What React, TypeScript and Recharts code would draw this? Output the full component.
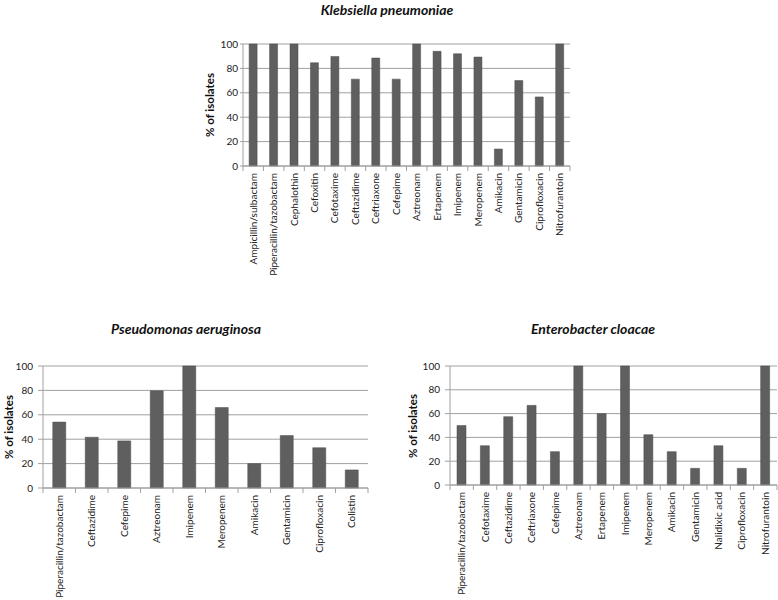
import React from 'react';
import { BarChart, Bar, XAxis, YAxis, CartesianGrid } from 'recharts';

// Klebsiella pneumoniae
const klebDrugs = [
  'Ampicillin/sulbactam', 'Piperacillin/tazobactam', 'Cephalothin', 'Cefoxitin', 'Cefotaxime',
  'Ceftazidime', 'Ceftriaxone', 'Cefepime', 'Aztreonam', 'Ertapenem', 'Imipenem', 'Meropenem',
  'Amikacin', 'Gentamicin', 'Ciprofloxacin', 'Nitrofurantoin',
];
const klebValues = [100, 100, 100, 84.6, 89.8, 71.2, 88.5, 71.2, 100, 94, 92, 89.3, 13.9, 70, 56.6, 100];

// Pseudomonas aeruginosa
const pseudoDrugs = [
  'Piperacillin/tazobactam', 'Ceftazidime', 'Cefepime', 'Aztreonam', 'Imipenem', 'Meropenem',
  'Amikacin', 'Gentamicin', 'Ciprofloxacin', 'Colistin',
];
const pseudoValues = [54, 41.6, 38.6, 79.7, 100, 66, 20, 43, 33, 14.8];

// Enterobacter cloacae
const enteroDrugs = [
  'Piperacillin/tazobactam', 'Cefotaxime', 'Ceftazidime', 'Ceftriaxone', 'Cefepime', 'Aztreonam',
  'Ertapenem', 'Imipenem', 'Meropenem', 'Amikacin', 'Gentamicin', 'Nalidixic acid', 'Ciprofloxacin',
  'Nitrofurantoin',
];
const enteroValues = [50, 33, 57.4, 66.9, 28, 100, 60, 100, 42.3, 28, 14, 33, 14, 100];

const yTicks = [0, 20, 40, 60, 80, 100];

const FONT = 'Lato, "Open Sans", sans-serif';
const BAR = '#5f5f5f';
const GRID = '#a0a0a0';

// x tick: rotated label plus Excel-style tick marks between categories
function makeTick(n: number, plotWidth: number, offset: number) {
  return (props: any) => {
    const { x, y, payload, index } = props;
    const band = plotWidth / n;
    const axisY = y - offset;
    return (
      <g>
        {index === 0 && (
          <line x1={x - band / 2} x2={x - band / 2} y1={axisY} y2={axisY + 5} stroke={GRID} />
        )}
        <line x1={x + band / 2} x2={x + band / 2} y1={axisY} y2={axisY + 5} stroke={GRID} />
        <text
          transform={`translate(${x},${y}) rotate(-90)`}
          textAnchor="end"
          dy="0.35em"
          fontSize={10}
          fontFamily={FONT}
          fill="#222"
        >
          {payload.value}
        </text>
      </g>
    );
  };
}

type PanelProps = {
  title: string;
  drugs: string[];
  values: number[];
  left: number;
  top: number;
  width: number;
  height: number;
  plotLeft: number;
  plotRight: number;
  plotTop: number;
  xAxisHeight: number;
  yTickSize: number;
  yTickMargin: number;
  titleX: number;
  titleY: number;
  labelX: number;
};

function Panel(p: PanelProps) {
  const data = p.drugs.map((d, i) => ({ drug: d, value: p.values[i] }));
  const plotWidth = p.width - p.plotLeft - p.plotRight;
  const plotBottom = p.height - p.xAxisHeight;
  const plotMid = p.top + (p.plotTop + plotBottom) / 2;
  return (
    <>
      <div
        style={{
          position: 'absolute',
          left: p.titleX - 150,
          top: p.titleY - 9,
          width: 300,
          textAlign: 'center',
          fontFamily: FONT,
          fontWeight: 700,
          fontStyle: 'italic',
          fontSize: 14,
          lineHeight: '18px',
          color: '#111',
        }}
      >
        {p.title}
      </div>
      <div
        style={{
          position: 'absolute',
          left: p.labelX - 60,
          top: plotMid - 8,
          width: 120,
          height: 16,
          lineHeight: '16px',
          textAlign: 'center',
          transform: 'rotate(-90deg)',
          fontFamily: FONT,
          fontWeight: 700,
          fontSize: 11.5,
          color: '#111',
        }}
      >
        % of isolates
      </div>
      <div style={{ position: 'absolute', left: p.left, top: p.top }}>
        <BarChart
          width={p.width}
          height={p.height}
          data={data}
          margin={{ top: p.plotTop, right: p.plotRight, bottom: 0, left: 0 }}
          barCategoryGap="30%"
        >
          <CartesianGrid vertical={false} stroke={GRID} />
          <XAxis
            dataKey="drug"
            interval={0}
            height={p.xAxisHeight}
            stroke={GRID}
            tickLine={false}
            tickSize={5}
            tickMargin={2}
            tick={makeTick(p.drugs.length, plotWidth, 7)}
          />
          <YAxis
            width={p.plotLeft}
            domain={[0, 100]}
            ticks={yTicks}
            stroke={GRID}
            tickSize={p.yTickSize}
            tickMargin={p.yTickMargin}
            tick={{ fontSize: 10, fontFamily: FONT, fill: '#222' }}
          />
          <Bar dataKey="value" fill={BAR} stroke="#4a4a4a" strokeWidth={0.5} isAnimationActive={false} />
        </BarChart>
      </div>
    </>
  );
}

export default function App() {
  return (
    <div
      style={{
        position: 'absolute',
        left: 0,
        top: 0,
        width: 778,
        height: 600,
        background: '#fff',
        overflow: 'hidden',
      }}
    >
      <Panel
        title="Klebsiella pneumoniae"
        drugs={klebDrugs}
        values={klebValues}
        left={200}
        top={30}
        width={380}
        height={250}
        plotLeft={43}
        plotRight={10}
        plotTop={14}
        xAxisHeight={114}
        yTickSize={3}
        yTickMargin={2}
        titleX={387}
        titleY={10}
        labelX={210}
      />
      <Panel
        title="Pseudomonas aeruginosa"
        drugs={pseudoDrugs}
        values={pseudoValues}
        left={0}
        top={340}
        width={390}
        height={260}
        plotLeft={43}
        plotRight={22}
        plotTop={26}
        xAxisHeight={112}
        yTickSize={5}
        yTickMargin={5}
        titleX={186}
        titleY={329}
        labelX={9}
      />
      <Panel
        title="Enterobacter cloacae"
        drugs={enteroDrugs}
        values={enteroValues}
        left={390}
        top={340}
        width={388}
        height={260}
        plotLeft={60}
        plotRight={1}
        plotTop={26}
        xAxisHeight={115}
        yTickSize={5}
        yTickMargin={5}
        titleX={593}
        titleY={329}
        labelX={413}
      />
    </div>
  );
}
